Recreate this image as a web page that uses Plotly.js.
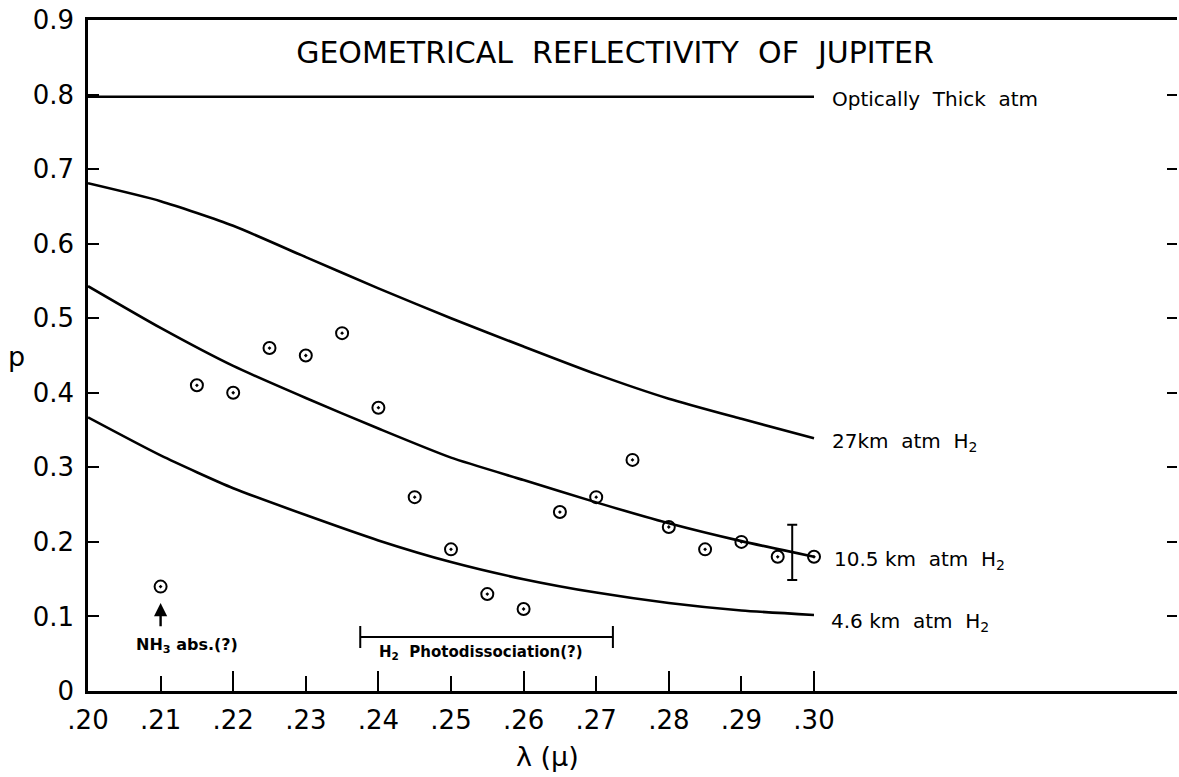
<!DOCTYPE html>
<html>
<head>
<meta charset="utf-8">
<script src="https://cdn.plot.ly/plotly-3.0.1.min.js"></script>
<style>html,body{margin:0;padding:0;background:#fff;}#chart{width:1179px;height:777px;}</style>
</head>
<body>
<div id="chart"></div>
<script>
// Model curves (wavelength in microns, geometric albedo p)
const curveX = [0.20, 0.21, 0.22, 0.23, 0.24, 0.25, 0.26, 0.27, 0.28, 0.29, 0.30];
const thickY = [0.797, 0.797, 0.797, 0.797, 0.797, 0.797, 0.797, 0.797, 0.797, 0.797, 0.797];
const km27Y  = [0.681, 0.657, 0.624, 0.582, 0.540, 0.500, 0.462, 0.425, 0.392, 0.365, 0.339];
const km105Y = [0.543, 0.487, 0.436, 0.393, 0.352, 0.313, 0.283, 0.253, 0.225, 0.201, 0.180];
const km46Y  = [0.367, 0.316, 0.272, 0.236, 0.202, 0.173, 0.150, 0.132, 0.118, 0.108, 0.102];

// Observed points
const obsX = [0.21, 0.215, 0.22, 0.225, 0.23, 0.235, 0.24, 0.245, 0.25, 0.255, 0.26, 0.265, 0.27, 0.275, 0.28, 0.285, 0.29, 0.295, 0.30];
const obsY = [0.14, 0.41, 0.40, 0.46, 0.45, 0.48, 0.38, 0.26, 0.19, 0.13, 0.11, 0.24, 0.26, 0.31, 0.22, 0.19, 0.20, 0.18, 0.18];

// Representative error bar
const errX = [0.297];
const errY = [0.186];
const errHalf = [0.037];

// H2 photodissociation band
const bandStart = 0.2375;
const bandEnd = 0.2723;
const bandY = 0.0724;

// Axis ticks
const xTickVals = [0.20, 0.21, 0.22, 0.23, 0.24, 0.25, 0.26, 0.27, 0.28, 0.29, 0.30];
const xTickText = ['.20', '.21', '.22', '.23', '.24', '.25', '.26', '.27', '.28', '.29', '.30'];
const xMajorVals = [0.20, 0.22, 0.24, 0.26, 0.28, 0.30];
const yTickVals = [0, 0.1, 0.2, 0.3, 0.4, 0.5, 0.6, 0.7, 0.8, 0.9];
const yTickText = ['0', '0.1', '0.2', '0.3', '0.4', '0.5', '0.6', '0.7', '0.8', '0.9'];
const yRightTicks = [0.1, 0.2, 0.3, 0.4, 0.5, 0.6, 0.7, 0.8];

const FONT = 'DejaVu Sans, sans-serif';
const lineStyle = {color: '#000', width: 2.6, shape: 'spline', smoothing: 0.6};

const traces = [
  {x: curveX, y: thickY, mode: 'lines', line: {color: '#000', width: 2.6}, hoverinfo: 'skip'},
  {x: curveX, y: km27Y, mode: 'lines', line: lineStyle},
  {x: curveX, y: km105Y, mode: 'lines', line: lineStyle},
  {x: curveX, y: km46Y, mode: 'lines', line: lineStyle},
  {x: obsX, y: obsY, mode: 'markers',
   marker: {symbol: 'circle-open-dot', size: 12, color: '#000', line: {color: '#000', width: 2}}},
  {x: errX, y: errY, mode: 'markers', marker: {size: 1, color: 'rgba(0,0,0,0)'},
   error_y: {type: 'data', array: errHalf, symmetric: true, width: 5, thickness: 2, color: '#000'}},
  {x: [(bandStart + bandEnd) / 2], y: [bandY], mode: 'markers', marker: {size: 1, color: 'rgba(0,0,0,0)'},
   error_x: {type: 'data', array: [(bandEnd - bandStart) / 2], symmetric: true, width: 11, thickness: 2, color: '#000'}},
  // invisible traces that carry the extra tick axes
  {x: [0.2], y: [0], xaxis: 'x2', yaxis: 'y', mode: 'markers', marker: {size: 1, color: 'rgba(0,0,0,0)'}, hoverinfo: 'skip'},
  {x: [0.2], y: [0], xaxis: 'x', yaxis: 'y2', mode: 'markers', marker: {size: 1, color: 'rgba(0,0,0,0)'}, hoverinfo: 'skip'}
];

const labelFont = {family: FONT, size: 20, color: '#000'};
const annotations = [
  {x: 0.3022, y: 0.7935, xref: 'x', yref: 'y', text: 'Optically  Thick  atm', showarrow: false, xanchor: 'left', yanchor: 'middle', font: labelFont},
  {x: 0.3022, y: 0.334, xref: 'x', yref: 'y', text: '27km  atm  H<sub>2</sub>', showarrow: false, xanchor: 'left', yanchor: 'middle', font: labelFont},
  {x: 0.3025, y: 0.1756, xref: 'x', yref: 'y', text: '10.5 km  atm  H<sub>2</sub>', showarrow: false, xanchor: 'left', yanchor: 'middle', font: labelFont},
  {x: 0.3020, y: 0.0925, xref: 'x', yref: 'y', text: '4.6 km  atm  H<sub>2</sub>', showarrow: false, xanchor: 'left', yanchor: 'middle', font: labelFont},
  {x: 0.2136, y: 0.0617, xref: 'x', yref: 'y', text: '<b>NH<sub>3</sub> abs.(?)</b>', showarrow: false, xanchor: 'center', yanchor: 'middle', font: {family: FONT, size: 16, color: '#000'}},
  {x: 0.2542, y: 0.051, xref: 'x', yref: 'y', text: '<b>H<sub>2</sub>  Photodissociation(?)</b>', showarrow: false, xanchor: 'center', yanchor: 'middle', font: {family: FONT, size: 15, color: '#000'}},
  {x: 0.21, y: 0.118, ax: 0.21, ay: 0.085, xref: 'x', yref: 'y', axref: 'x', ayref: 'y', text: '', showarrow: true, arrowhead: 2, arrowsize: 1.1, arrowwidth: 2.4, arrowcolor: '#000'},
  // axis titles
  {x: -0.0661, y: 0.4978, xref: 'paper', yref: 'paper', text: 'p', showarrow: false, xanchor: 'center', yanchor: 'middle', font: {family: FONT, size: 27, color: '#000'}},
  {x: 0.4215, y: -0.0969, xref: 'paper', yref: 'paper', text: 'λ (μ)', showarrow: false, xanchor: 'center', yanchor: 'middle', font: {family: FONT, size: 27, color: '#000'}}
];

const layout = {
  width: 1179, height: 777,
  margin: {l: 88, r: 2, t: 20, b: 86},
  paper_bgcolor: '#fff', plot_bgcolor: '#fff',
  showlegend: false,
  title: {text: 'GEOMETRICAL  REFLECTIVITY  OF  JUPITER', x: 615 / 1179, xanchor: 'center', y: 1 - 52 / 777, yanchor: 'middle', font: {family: FONT, size: 30, color: '#000'}},
  xaxis: {
    range: [0.20, 0.35], showgrid: false, zeroline: false,
    showline: true, linecolor: '#000', linewidth: 2.8, mirror: true,
    ticks: 'inside', ticklen: 15, tickwidth: 2, tickcolor: '#000',
    tickvals: xTickVals, ticktext: xTickText, ticklabelstandoff: 4,
    tickfont: {family: FONT, size: 26, color: '#000'}
  },
  xaxis2: {
    overlaying: 'x', side: 'bottom', range: [0.20, 0.35], showgrid: false, zeroline: false,
    showline: false, ticks: 'inside', ticklen: 20, tickwidth: 2, tickcolor: '#000',
    tickvals: xMajorVals, showticklabels: false
  },
  yaxis: {
    range: [0, 0.9], showgrid: false, zeroline: false,
    showline: true, linecolor: '#000', linewidth: 2.8,
    ticks: 'inside', ticklen: 11, tickwidth: 2, tickcolor: '#000',
    tickvals: yTickVals, ticktext: yTickText, ticklabelstandoff: 6,
    tickfont: {family: FONT, size: 26, color: '#000'}
  },
  yaxis2: {
    overlaying: 'y', side: 'right', range: [0, 0.9], showgrid: false, zeroline: false,
    showline: false,
    ticks: 'inside', ticklen: 10, tickwidth: 2, tickcolor: '#000',
    tickvals: yRightTicks, showticklabels: false
  },
  annotations: annotations
};

Plotly.newPlot('chart', traces, layout, {displayModeBar: false, staticPlot: true});
</script>
</body>
</html>
